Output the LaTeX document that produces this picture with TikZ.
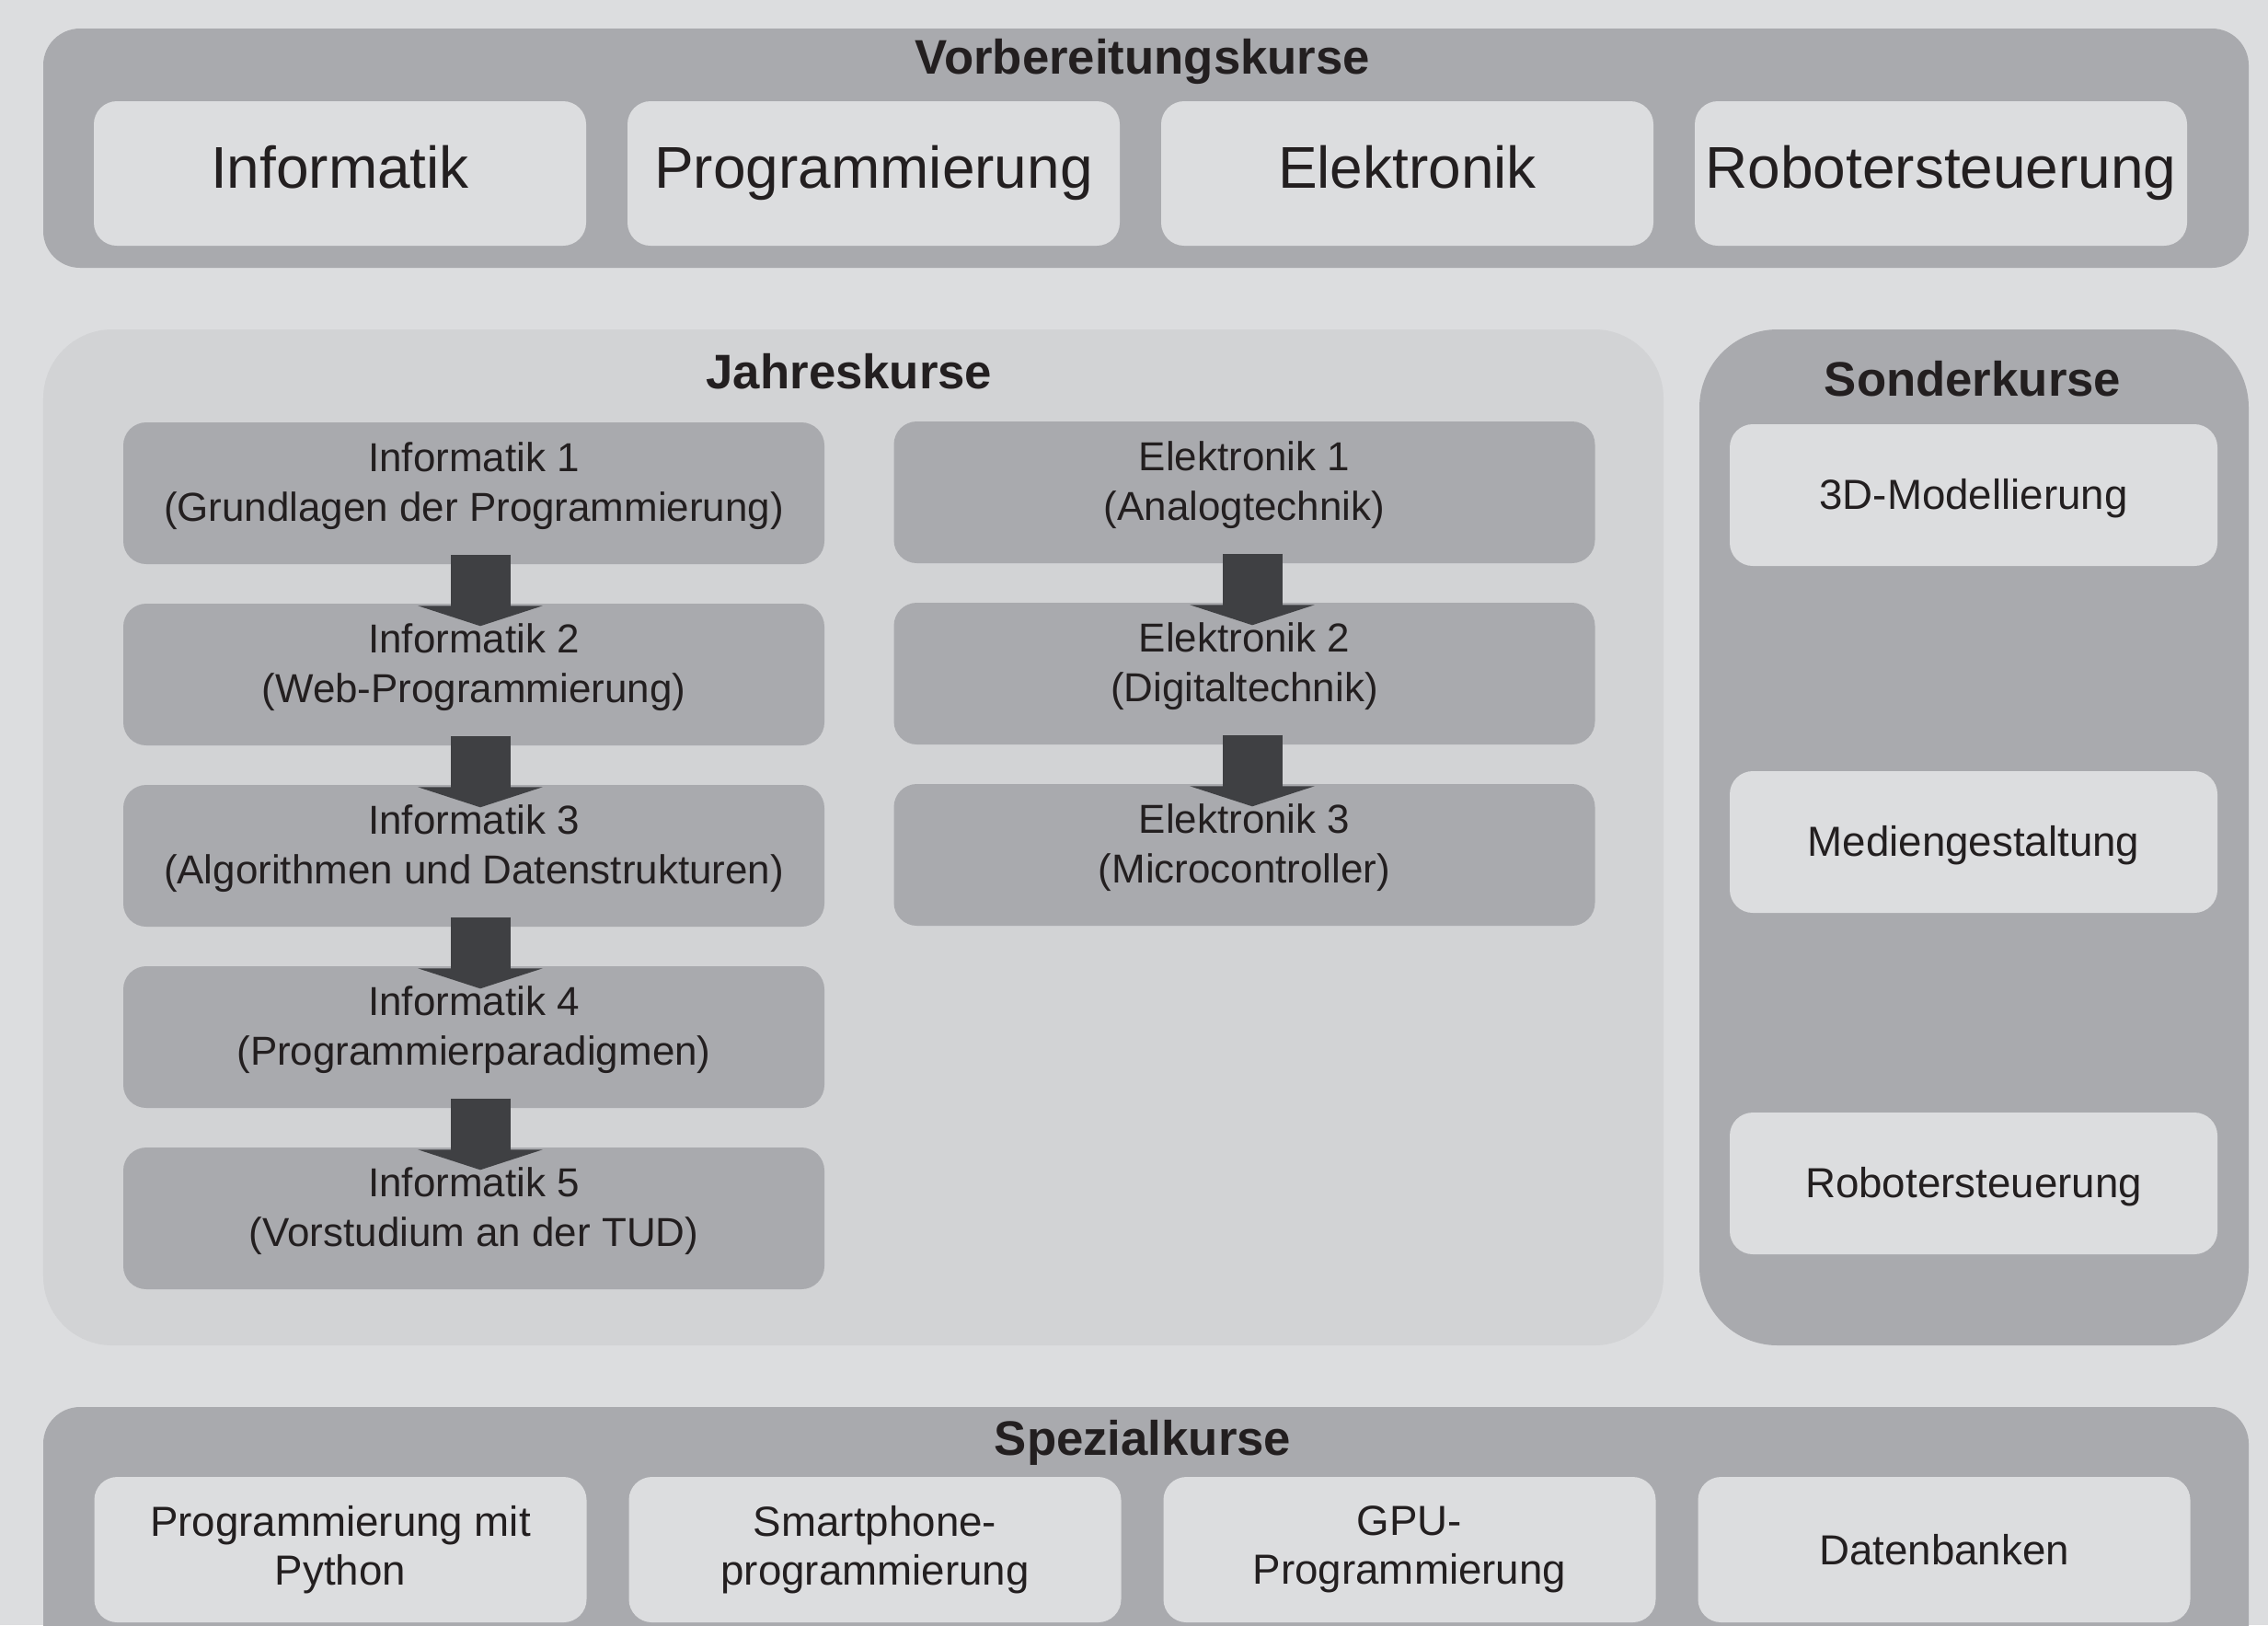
\documentclass[tikz,border=0pt]{standalone}
\usepackage{fontspec}
\setmainfont{Liberation Sans}
\usepackage{tikz}
\usetikzlibrary{arrows.meta,calc}
\definecolor{hellgrau}{HTML}{DCDDDF}
\definecolor{mittelgrau}{HTML}{D2D3D5}
\definecolor{dunkelgrau}{HTML}{A9AAAE}
\definecolor{pfeilgrau}{HTML}{3F4043}
\definecolor{schrift}{HTML}{231F20}

\begin{document}
\begin{tikzpicture}[
  gruppe/.style = {fill=dunkelgrau, rounded corners=0.4cm, minimum width=23.97cm, inner sep=0},
  titel/.style = {font=\fontsize{15}{18}\selectfont\bfseries, text=schrift},
  oben/.style = {fill=hellgrau, rounded corners=0.25cm, minimum width=5.35cm, minimum height=1.57cm, inner sep=0, text height=13pt, text depth=4pt, font=\fontsize{18.2}{21}\selectfont, text=schrift},
  jahr/.style = {fill=dunkelgrau, rounded corners=0.25cm, minimum width=7.62cm, minimum height=1.54cm, inner sep=0, text depth=7pt, align=center, font=\fontsize{12.5}{15.2}\selectfont, text=schrift},
  sonder/.style = {fill=hellgrau, rounded corners=0.25cm, minimum width=5.30cm, minimum height=1.54cm, inner sep=0, text height=10pt, text depth=1pt, align=center, font=\fontsize{13}{15}\selectfont, text=schrift},
  spez/.style = {fill=hellgrau, rounded corners=0.25cm, minimum width=5.35cm, minimum height=1.58cm, inner sep=0, align=center, font=\fontsize{13}{15}\selectfont, text=schrift},
  pfeil/.style = {draw=pfeilgrau, line width=0.65cm, -{Triangle[width=1.35cm,length=0.22cm]}},
  node distance={1.97cm}]

\clip (0,0) rectangle (24.65,-17.66);
\fill[hellgrau] (0,0) rectangle (24.65,-17.66);

\node[gruppe, minimum height=2.6cm] (vorb) at (12.455,-1.61) {};
\node[titel] (vorbT) at (12.42,-0.67) {Vorbereitungskurse};
\begin{scope}[node distance=5.8cm]
\node[oben] (v1) at (3.695,-1.885) {Informatik};
\node[oben] (v2) [right of=v1] {Programmierung};
\node[oben] (v3) [right of=v2] {Elektronik};
\node[oben] (v4) [right of=v3] {Robotersteuerung};
\end{scope}

\node[fill=mittelgrau, rounded corners=0.75cm, minimum width=17.61cm, minimum height=11.04cm, inner sep=0] (jahres) at (9.275,-9.10) {};
\node[titel] (jahresT) at (9.23,-4.04) {Jahreskurse};
\node[jahr] (i1) at (5.15,-5.36) {Informatik 1\\(Grundlagen der Programmierung)};
\node[jahr] (i2) [below of=i1] {Informatik 2\\(Web-Programmierung)};
\node[jahr] (i3) [below of=i2] {Informatik 3\\(Algorithmen und Datenstrukturen)};
\node[jahr] (i4) [below of=i3] {Informatik 4\\(Programmierparadigmen)};
\node[jahr] (i5) [below of=i4] {Informatik 5\\(Vorstudium an der TUD)};
\node[jahr] (e1) at (13.525,-5.35) {Elektronik 1\\(Analogtechnik)};
\node[jahr] (e2) [below of=e1] {Elektronik 2\\(Digitaltechnik)};
\node[jahr] (e3) [below of=e2] {Elektronik 3\\(Microcontroller)};
\draw[pfeil] ($(i1.south)+(0.07,0.11)$) -- ($(i2.north)+(0.07,-0.25)$);
\draw[pfeil] ($(i2.south)+(0.07,0.11)$) -- ($(i3.north)+(0.07,-0.25)$);
\draw[pfeil] ($(i3.south)+(0.07,0.11)$) -- ($(i4.north)+(0.07,-0.25)$);
\draw[pfeil] ($(i4.south)+(0.07,0.11)$) -- ($(i5.north)+(0.07,-0.25)$);
\draw[pfeil] ($(e1.south)+(0.085,0.11)$) -- ($(e2.north)+(0.085,-0.25)$);
\draw[pfeil] ($(e2.south)+(0.085,0.11)$) -- ($(e3.north)+(0.085,-0.25)$);

\node[fill=dunkelgrau, rounded corners=0.85cm, minimum width=5.97cm, minimum height=11.04cm, inner sep=0] (sonderk) at (21.455,-9.10) {};
\node[titel] (sonderT) at (21.44,-4.12) {Sonderkurse};
\node[sonder] (s1) at (21.45,-5.38) {3D-Modellierung};
\node[sonder] (s2) at (21.45,-9.15) {Mediengestaltung};
\node[sonder] (s3) at (21.45,-12.86) {Robotersteuerung};

\node[gruppe, minimum height=2.91cm] (spezial) at (12.455,-16.745) {};
\node[titel] (spezialT) at (12.42,-15.68) {Spezialkurse};
\begin{scope}[node distance=5.81cm]
\node[spez] (p1) at (3.70,-16.84) {Programmierung mit\\Python};
\node[spez] (p2) [right of=p1] {Smartphone-\\programmierung};
\node[spez] (p3) [right of=p2] {GPU-\\Programmierung};
\node[spez] (p4) [right of=p3] {Datenbanken};
\end{scope}
\end{tikzpicture}
\end{document}
